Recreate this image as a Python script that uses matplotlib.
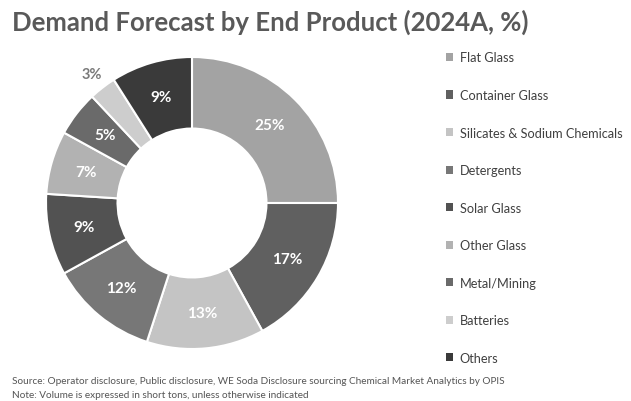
import numpy as np
import matplotlib
matplotlib.use('Agg')
import matplotlib.pyplot as plt
from matplotlib.patches import Patch

plt.rcParams['font.family'] = ['Lato', 'DejaVu Sans']

categories = ['Flat Glass', 'Container Glass', 'Silicates & Sodium Chemicals', 'Detergents',
              'Solar Glass', 'Other Glass', 'Metal/Mining', 'Batteries', 'Others']
shares = [25, 17, 13, 12, 9, 7, 5, 3, 9]
colors = ['#a3a3a3', '#606060', '#c4c4c4', '#777777', '#525252',
          '#b2b2b2', '#6a6a6a', '#cdcdcd', '#3a3a3a']

W, H = 631, 402
fig = plt.figure(figsize=(W / 100, H / 100), dpi=100)

# donut, centre ~ (192, 204) px, radius ~146 px
cx, cy, r = 192, 204, 146
ax = fig.add_axes([(cx - r) / W, (H - cy - r) / H, 2 * r / W, 2 * r / H])
wedges, _ = ax.pie(shares, colors=colors, startangle=90, counterclock=False,
                   radius=1, wedgeprops=dict(width=0.49, edgecolor='white', linewidth=1.5))
ax.set_aspect('equal')
ax.set_xlim(-1, 1)
ax.set_ylim(-1, 1)
ax.axis('off')

# percentage labels
total = sum(shares)
cum = 0
for val in shares:
    mid = 90 - (cum + val / 2) / total * 360
    cum += val
    a = np.deg2rad(mid)
    if val < 4:
        ax.text(1.12 * np.cos(a), 1.12 * np.sin(a), f'{val}%', ha='center', va='center',
                fontsize=10.5, fontweight='bold', color='#7a7a7a', clip_on=False)
    else:
        ax.text(0.755 * np.cos(a), 0.755 * np.sin(a), f'{val}%', ha='center', va='center',
                fontsize=11, fontweight='bold', color='white')

# legend
handles = [Patch(facecolor=c, edgecolor='none') for c in colors]
fig.legend(handles, categories, loc='upper left', bbox_to_anchor=(434 / W, 1 - 41 / H),
           frameon=False, fontsize=9.2, handlelength=0.6, handleheight=0.6,
           handletextpad=0.5, labelspacing=2.0, labelcolor='#404040')

fig.text(12 / W, 1 - 22 / H, 'Demand Forecast by End Product (2024A, %)', ha='left', va='center',
         fontsize=18.5, fontweight='bold', color='#595959')
fig.text(12 / W, 1 - 382 / H,
         'Source: Operator disclosure, Public disclosure, WE Soda Disclosure sourcing Chemical Market Analytics by OPIS',
         ha='left', va='center', fontsize=7.2, color='#555555')
fig.text(12 / W, 1 - 396 / H, 'Note: Volume is expressed in short tons, unless otherwise indicated',
         ha='left', va='center', fontsize=7.2, color='#555555')

fig.savefig('out.png', dpi=100)
